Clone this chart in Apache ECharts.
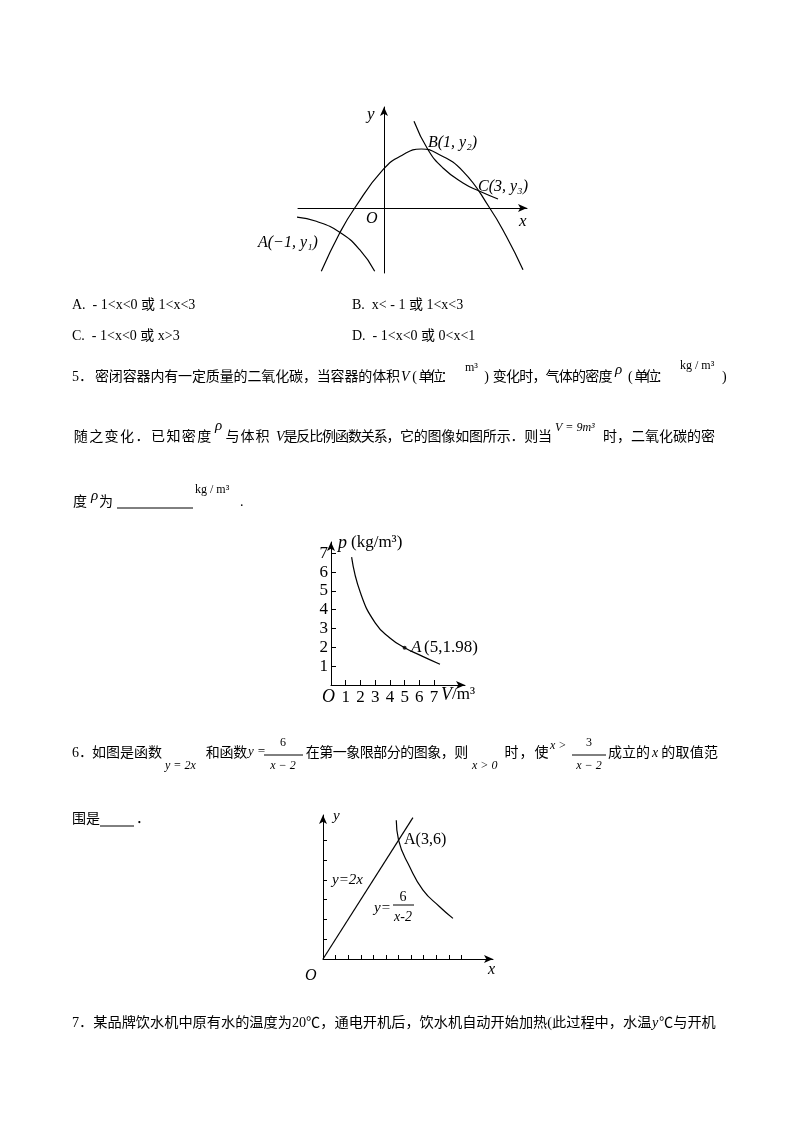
<!DOCTYPE html>
<html><head><meta charset="utf-8">
<script src="https://cdn.jsdelivr.net/npm/echarts@6/dist/echarts.min.js"></script>
<style>html,body{margin:0;background:#fff}#c{width:800px;height:1132px}</style>
</head><body><div id="c"></div>
<script>
// figure 4: sketch of parabola and hyperbola (coordinates)
const parabola = [[-6.27,-6.33],[-4.43,-2.5],[-2.93,0],[-0.1,3.83],[1.9,5.33],[3.73,5.9],[5.23,5.5],[7.9,3.67],[10.57,0],[12.23,-2.83],[13.9,-6.17]];
const hypRight = [[3,8.67],[4.4,5.83],[5.9,4],[7.9,2.5],[9.57,1.67],[11.4,0.9]];
const hypLeft = [[-8.77,-0.9],[-6.77,-1.33],[-4.43,-2.43],[-2.43,-4.17],[-0.93,-6.33]];
// figure 5: density vs volume
const densityCurve = [[1.4,6.8],[2,4.9],[3,3.3],[4,2.5],[5,1.98],[6,1.6],[7.4,1.1]];
const pointA5 = [5,1.98];
const ticks5 = [1,2,3,4,5,6,7];
// figure 6
const lineY2x = [[0,0],[3.57,7.14]];
const curve6 = [[2.91,7.0],[3,6],[3.44,4.66],[3.97,3.48],[4.63,2.64],[5.16,2.05]];
const ticks6x = [0.5,1,1.5,2,2.5,3,3.5,4,4.5,5,5.5];
const ticks6y = [1,2,3,4,5,6];

const SERIF = '"Liberation Serif","Noto Sans CJK SC",serif';
const g = [];
function T(x, y, text, size = 14, italic = false, align = 'left') {
  g.push({ type: 'text', x, y, style: { text, fill: '#000', align, verticalAlign: 'middle',
    font: `${italic ? 'italic ' : ''}${size}px ${SERIF}` } });
}
// justified run: characters spread evenly from x1 to x2
function J(x1, x2, y, str, size = 14) {
  const chars = Array.from(str);
  const step = (x2 - x1) / chars.length;
  chars.forEach((c, i) => T(x1 + i * step + step / 2, y, c, size, false, 'center'));
}
function L(x1, y1, x2, y2) {
  g.push({ type: 'line', shape: { x1, y1, x2, y2 }, style: { stroke: '#000', lineWidth: 1 } });
}

// figure 4 labels
T(367, 115, 'y', 17, true); T(366, 219, 'O', 16, true); T(519, 222, 'x', 17, true);
T(428, 143, 'B(1, y₂)', 16, true); T(478, 187, 'C(3, y₃)', 16, true); T(258, 243, 'A(−1, y₁)', 16, true);

// options
T(72, 305, 'A.  - 1<x<0 或 1<x<3'); T(352, 305, 'B.  x< - 1 或 1<x<3');
T(72, 336, 'C.  - 1<x<0 或 x>3'); T(352, 336, 'D.  - 1<x<0 或 0<x<1');

// question 5
T(72, 377, '5．'); J(95, 400, 377, '密闭容器内有一定质量的二氧化碳，当容器的体积');
T(401, 377, 'V', 14, true); J(409, 453, 377, '(单位：');
T(465, 368, 'm³', 12); J(480, 612, 377, ')变化时，气体的密度');
T(615, 370, 'ρ', 15, true); J(625, 668, 377, '(单位：'); T(680, 366, 'kg / m³', 12); T(722, 377, ')');
J(73, 212, 437, '随之变化．已知密度'); T(215, 426, 'ρ', 15, true);
J(225, 270, 437, '与体积'); T(276, 437, 'V', 14, true);
J(284, 400, 437, '是反比例函数关系，'); J(400, 552, 437, '它的图像如图所示．则当');
T(555, 428, 'V = 9m³', 12, true); J(603, 715, 437, '时，二氧化碳的密');
T(73, 502, '度'); T(91, 496, 'ρ', 15, true); T(99, 502, '为');
L(117, 508, 193, 508); T(195, 490, 'kg / m³', 12); T(240, 502, '.');

// figure 5 labels
T(322, 697, 'O', 18, true); T(338, 543, 'p', 18, true); T(351, 543, '(kg/m³)', 17);
T(441, 695, 'V', 18, true); T(452, 695, '/m³', 17); T(411, 648, 'A', 17, true); T(424, 648, '(5,1.98)', 17);

// question 6
T(72, 753, '6．'); J(92, 162, 753, '如图是函数'); T(165, 766, 'y = 2x', 12, true); J(206, 247, 753, '和函数');
T(248, 752, 'y =', 13, true); T(283, 743, '6', 12, false, 'center'); L(264, 755, 303, 755); T(283, 766, 'x − 2', 12, true, 'center');
J(306, 468, 753, '在第一象限部分的图象，则'); T(472, 766, 'x > 0', 12, true); J(504, 549, 753, '时，使');
T(550, 746, 'x >', 12, true); T(589, 743, '3', 12, false, 'center'); L(572, 755, 606, 755); T(589, 766, 'x − 2', 12, true, 'center');
J(608, 650, 753, '成立的'); T(652, 753, 'x', 14, true); J(661, 718, 753, '的取值范');
T(72, 819, '围是'); L(100, 826, 134, 826); T(136, 819, '．');

// figure 6 labels
T(333, 816, 'y', 15, true); T(305, 976, 'O', 16, true); T(488, 970, 'x', 16, true);
T(404, 840, 'A(3,6)', 16); T(332, 880, 'y=2x', 15, true);
T(374, 908, 'y=', 15, true); T(403, 897, '6', 14, false, 'center'); L(393, 905, 414, 905); T(403, 917, 'x-2', 14, true, 'center');

// question 7
T(72, 1023, '7．某品牌饮水机中原有水的温度为20℃，通电开机后，饮水机自动开始加热(此过程中，水温', 14.2);
T(652, 1023, 'y', 14.2, true); T(659, 1023, '℃与开机', 14.2);

const hide = { show: false };
const axisBase = (extra) => Object.assign({
  type: 'value', splitLine: hide, axisLabel: hide, axisTick: hide,
  axisLine: { show: true, symbol: ['none', 'arrow'], symbolSize: [6, 9], lineStyle: { color: '#000', width: 1 } }
}, extra);
const lineS = (data, xi) => ({ type: 'line', data, xAxisIndex: xi, yAxisIndex: xi, smooth: true, showSymbol: false,
  lineStyle: { color: '#000', width: 1.2 }, silent: true });

const option = {
  animation: false,
  grid: [
    { left: 298, top: 107, width: 229, height: 166 },
    { left: 331, top: 542, width: 134, height: 143 },
    { left: 323, top: 815, width: 170, height: 144 }
  ],
  xAxis: [
    axisBase({ gridIndex: 0, min: -8.6, max: 14.3 }),
    axisBase({ gridIndex: 1, min: 0, max: 9.1,
      axisTick: { show: true, inside: true, length: 5, customValues: ticks5, lineStyle: { color: '#000' } },
      axisLabel: { show: true, customValues: ticks5, margin: 4, color: '#000', fontSize: 17, fontFamily: SERIF } }),
    axisBase({ gridIndex: 2, min: 0, max: 6.75,
      axisTick: { show: true, inside: true, length: 4, customValues: ticks6x, lineStyle: { color: '#000' } } })
  ],
  yAxis: [
    axisBase({ gridIndex: 0, min: -6.5, max: 10.1 }),
    axisBase({ gridIndex: 1, min: 0, max: 7.6,
      axisTick: { show: true, inside: true, length: 5, customValues: ticks5, lineStyle: { color: '#000' } },
      axisLabel: { show: true, customValues: ticks5, margin: 3, color: '#000', fontSize: 17, fontFamily: SERIF } }),
    axisBase({ gridIndex: 2, min: 0, max: 7.27,
      axisTick: { show: true, inside: true, length: 4, customValues: ticks6y, lineStyle: { color: '#000' } } })
  ],
  series: [
    lineS(parabola, 0), lineS(hypRight, 0), lineS(hypLeft, 0),
    lineS(densityCurve, 1),
    { type: 'scatter', data: [pointA5], xAxisIndex: 1, yAxisIndex: 1, symbolSize: 4, itemStyle: { color: '#000' }, silent: true },
    Object.assign(lineS(lineY2x, 2), { smooth: false }), lineS(curve6, 2)
  ],
  graphic: g
};
echarts.init(document.getElementById('c')).setOption(option);
</script></body></html>
